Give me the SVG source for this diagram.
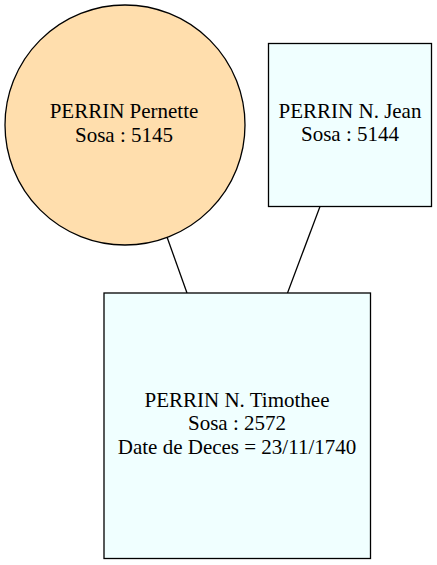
<svg xmlns="http://www.w3.org/2000/svg" width="437" height="565" viewBox="0 0 437 565">
<style>
.n{stroke:#000;stroke-width:1.3}
.e{stroke:#000;stroke-width:1.3;fill:none}
</style>
<rect width="437" height="565" fill="#fff"/>
<g id="edges">
<line class="e" x1="167" y1="237" x2="187" y2="293"/>
<line class="e" x1="320" y1="206.5" x2="287.5" y2="293"/>
</g>
<g font-family="'Liberation Serif', 'Times New Roman', 'DejaVu Serif', serif" font-size="21" text-anchor="middle" fill="#000">
<g id="n5145">
<circle class="n" cx="125" cy="125" r="120" fill="#ffdead"/>
<text x="124" y="118">PERRIN Pernette</text>
<text x="124" y="141.7">Sosa : 5145</text>
</g>
<g id="n5144">
<rect class="n" x="268.5" y="43.5" width="163" height="163" fill="#f0ffff"/>
<text x="350" y="117.7">PERRIN N. Jean</text>
<text x="350" y="141.4">Sosa : 5144</text>
</g>
<g id="n2572">
<rect class="n" x="104" y="293" width="266.5" height="265.5" fill="#f0ffff"/>
<text x="237" y="406.7">PERRIN N. Timothee</text>
<text x="237" y="430.4">Sosa : 2572</text>
<text x="237" y="454">Date de Deces = 23/11/1740</text>
</g>
</g>
</svg>
